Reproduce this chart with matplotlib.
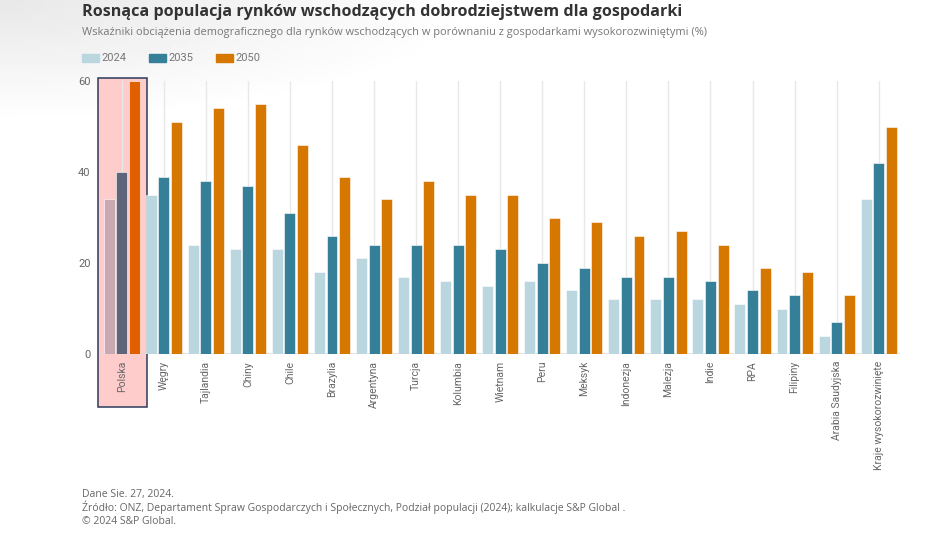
import numpy as np
import matplotlib
matplotlib.use("Agg")
import matplotlib.pyplot as plt
from matplotlib.patches import Rectangle

plt.rcParams['font.family'] = ['Roboto', 'DejaVu Sans']
TEXT_FONT = ['Open Sans', 'DejaVu Sans']

countries = ["Polska", "Węgry", "Tajlandia", "Chiny", "Chile", "Brazylia", "Argentyna",
             "Turcja", "Kolumbia", "Wietnam", "Peru", "Meksyk", "Indonezja", "Malezja",
             "Indie", "RPA", "Filipiny", "Arabia Saudyjska", "Kraje wysokorozwinięte"]
vals_2024 = [34, 35, 24, 23, 23, 18, 21, 17, 16, 15, 16, 14, 12, 12, 12, 11, 10, 4, 34]
vals_2035 = [40, 39, 38, 37, 31, 26, 24, 24, 24, 23, 20, 19, 17, 17, 16, 14, 13, 7, 42]
vals_2050 = [60, 51, 54, 55, 46, 39, 34, 38, 35, 35, 30, 29, 26, 27, 24, 19, 18, 13, 50]
years = ["2024", "2035", "2050"]
yticks = [0, 20, 40, 60]

colors = ["#bad7df", "#367f99", "#d67800"]
polska_colors = ["#c9a9b1", "#5e657a", "#e06000"]

W, H = 948, 546
fig = plt.figure(figsize=(W / 100, H / 100), dpi=100)

# faint shadow in the top-left corner of the screenshot
bg = fig.add_axes([0, 0, 1, 1], zorder=-10)
gx, gy = np.meshgrid(np.linspace(0, W, 200), np.linspace(0, H, 120))
shade = np.clip(1 - np.sqrt((gx / 480) ** 2 + (gy / 120) ** 2), 0, 1) * 0.09
bg.imshow(1 - shade, cmap="gray", vmin=0, vmax=1, extent=[0, W, H, 0], aspect="auto")
bg.set_xlim(0, W)
bg.set_ylim(H, 0)
bg.axis("off")

left, right, top, bottom = 99, 900, 81, 354
ax = fig.add_axes([left / W, 1 - bottom / H, (right - left) / W, (bottom - top) / H])
ax.patch.set_alpha(0)

x = np.arange(len(countries))
offsets = [-0.3, 0, 0.3]
width = 0.26

for xi in x:
    ax.plot([xi, xi], [0, 60], color="#e8e8e8", lw=1, zorder=1)

for k, series in enumerate([vals_2024, vals_2035, vals_2050]):
    cols = [polska_colors[k] if c == "Polska" else colors[k] for c in countries]
    ax.bar(x + offsets[k], series, width, color=cols, zorder=3,
           edgecolor="white", linewidth=0.4)

# highlight box around Polska
ax.add_patch(Rectangle((-0.56, -11.7), 1.17, 72.35, facecolor="#ffcccc",
                       edgecolor="#2b3a5c", lw=1.1, zorder=0.5, clip_on=False))

ax.set_xlim(-0.54, 18.506)
ax.set_ylim(0, 60)
ax.axhline(0, color="#dddddd", lw=1.2, zorder=2)
for s in ax.spines.values():
    s.set_visible(False)
ax.set_yticks(yticks)
ax.tick_params(axis="y", length=0, labelsize=8, labelcolor="#666666", pad=6)
ax.set_xticks(x)
ax.set_xticklabels(countries, rotation=90, fontsize=7.5, color="#666666")
ax.tick_params(axis="x", length=0, pad=5)

fig.text(82 / W, 1 - 12 / H, "Rosnąca populacja rynków wschodzących dobrodziejstwem dla gospodarki",
         fontsize=11.6, fontweight="bold", color="#333333", va="center", family=TEXT_FONT)
fig.text(82 / W, 1 - 32 / H,
         "Wskaźniki obciążenia demograficznego dla rynków wschodzących w porównaniu z gospodarkami wysokorozwiniętymi (%)",
         fontsize=7.9, color="#777777", va="center", family=TEXT_FONT)

leg_x = [82, 149, 216]
for k, lab in enumerate(years):
    fig.patches.append(Rectangle((leg_x[k] / W, 1 - 62 / H), 17 / W, 8 / H,
                                 transform=fig.transFigure, color=colors[k]))
    fig.text((leg_x[k] + 19) / W, 1 - 58 / H, lab, fontsize=8, color="#777777", va="center")

footer = ["Dane Sie. 27, 2024.",
          "Źródło: ONZ, Departament Spraw Gospodarczych i Społecznych, Podział populacji (2024); kalkulacje S&P Global .",
          "© 2024 S&P Global."]
for i, line in enumerate(footer):
    fig.text(82 / W, 1 - (494 + i * 13.5) / H, line, fontsize=7.5, color="#666666", va="center",
             family=TEXT_FONT)

fig.savefig("out.png", dpi=100)
